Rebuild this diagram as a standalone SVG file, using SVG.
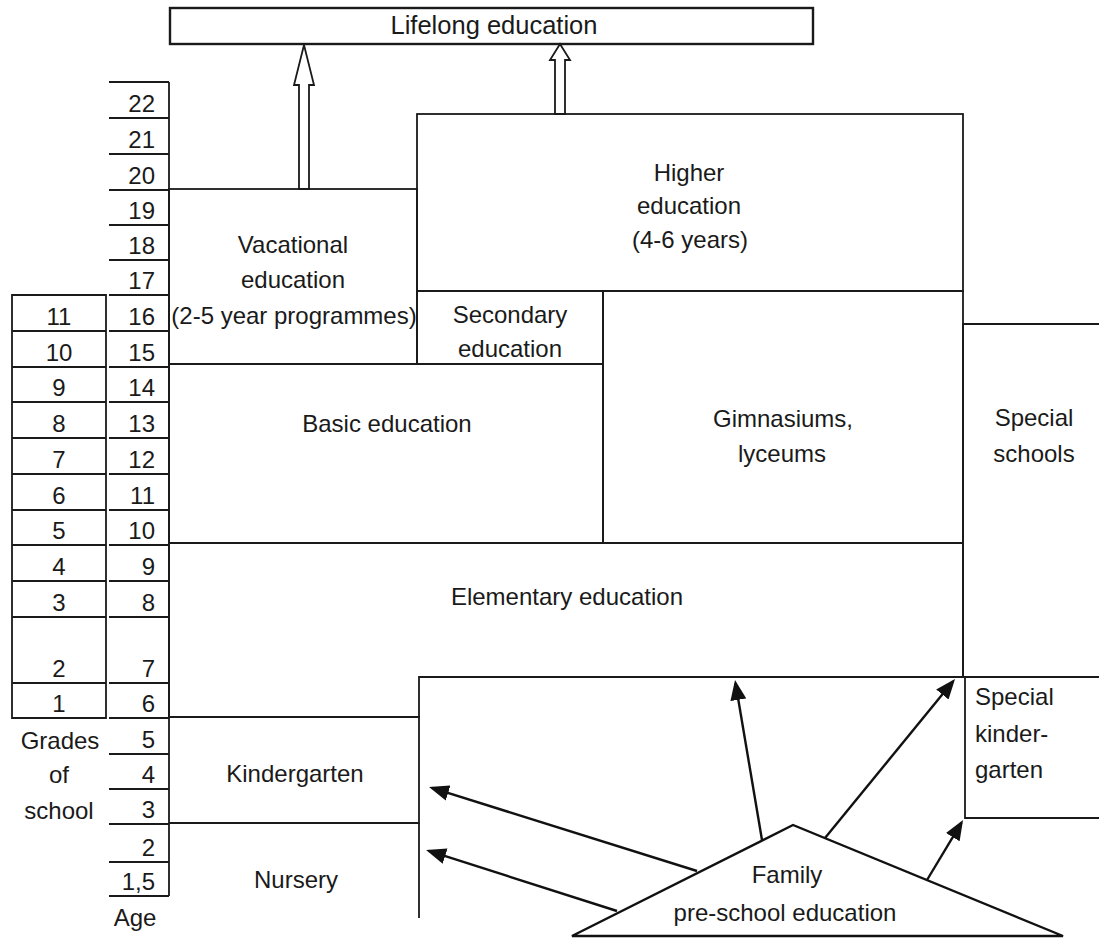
<svg xmlns="http://www.w3.org/2000/svg" width="1099" height="940" viewBox="0 0 1099 940">
<style>
  .ln{fill:none;stroke:#1a1a1a;stroke-width:1.8}
  .bx{fill:none;stroke:#1a1a1a;stroke-width:1.8}
  .t{font-family:"Liberation Sans",Arial,sans-serif;font-size:24px;fill:#1a1a1a}
  .c{text-anchor:middle}
  .r{text-anchor:end}
  .arr{fill:none;stroke:#111;stroke-width:2.4}
  .hollow{fill:#fff;stroke:#1a1a1a;stroke-width:1.8}
</style>
<defs>
  <marker id="ah" viewBox="0 0 20 16" refX="17" refY="8" markerWidth="20" markerHeight="16" markerUnits="userSpaceOnUse" orient="auto">
    <path d="M0,0 L20,8 L0,16 z" fill="#111"/>
  </marker>
</defs>
<rect width="1099" height="940" fill="#fff"/>

<g id="age-scale">
  <path class="ln" d="M169,82 V896 M109,82 H169 M109,118 H169 M109,154 H169 M109,190 H169 M109,225 H169 M109,260 H169 M109,295 H169 M109,331 H169 M109,367 H169 M109,402 H169 M109,438 H169 M109,474 H169 M109,510 H169 M109,545 H169 M109,581 H169 M109,617 H169 M109,683 H169 M109,718 H169 M109,754 H169 M109,789 H169 M109,824 H169 M109,862 H169 M109,896 H169"/>
  <g class="t r">
    <text x="155" y="112">22</text>
    <text x="155" y="148">21</text>
    <text x="155" y="184">20</text>
    <text x="155" y="219">19</text>
    <text x="155" y="254">18</text>
    <text x="155" y="289">17</text>
    <text x="155" y="325">16</text>
    <text x="155" y="361">15</text>
    <text x="155" y="396">14</text>
    <text x="155" y="432">13</text>
    <text x="155" y="468">12</text>
    <text x="155" y="504">11</text>
    <text x="155" y="539">10</text>
    <text x="155" y="575">9</text>
    <text x="155" y="611">8</text>
    <text x="155" y="677">7</text>
    <text x="155" y="712">6</text>
    <text x="155" y="748">5</text>
    <text x="155" y="783">4</text>
    <text x="155" y="818">3</text>
    <text x="155" y="856">2</text>
    <text x="155" y="890">1,5</text>
  </g>
  <text class="t c" x="135" y="926">Age</text>
</g>

<g id="grades-scale">
  <path class="ln" d="M12,295 H106 V718 H12 Z M12,331 H106 M12,367 H106 M12,402 H106 M12,438 H106 M12,474 H106 M12,510 H106 M12,545 H106 M12,581 H106 M12,617 H106 M12,683 H106"/>
  <g class="t c">
    <text x="59" y="325">11</text>
    <text x="59" y="361">10</text>
    <text x="59" y="396">9</text>
    <text x="59" y="432">8</text>
    <text x="59" y="468">7</text>
    <text x="59" y="504">6</text>
    <text x="59" y="539">5</text>
    <text x="59" y="575">4</text>
    <text x="59" y="611">3</text>
    <text x="59" y="677">2</text>
    <text x="59" y="712">1</text>
    <text x="60" y="749">Grades</text>
    <text x="59" y="783">of</text>
    <text x="59" y="819">school</text>
  </g>
</g>

<g id="lifelong">
  <rect x="170" y="8" width="643" height="36" fill="#fff" stroke="#1a1a1a" stroke-width="2.4"/>
  <text class="t c" x="494" y="34" style="font-size:25.5px">Lifelong education</text>
</g>

<g id="vocational">
  <rect class="bx" x="169" y="189" width="248" height="175"/>
  <text class="t c" x="293" y="253">Vacational</text>
  <text class="t c" x="293" y="288">education</text>
  <text class="t c" x="294" y="324">(2-5 year programmes)</text>
</g>

<g id="higher">
  <rect class="bx" x="417" y="114" width="546" height="177"/>
  <text class="t c" x="689" y="181">Higher</text>
  <text class="t c" x="689" y="214">education</text>
  <text class="t c" x="690" y="248">(4-6 years)</text>
</g>

<g id="secondary">
  <rect class="bx" x="417" y="291" width="186" height="73"/>
  <text class="t c" x="510" y="323">Secondary</text>
  <text class="t c" x="510" y="357">education</text>
</g>

<g id="gymnasiums">
  <rect class="bx" x="603" y="291" width="360" height="252"/>
  <text class="t c" x="783" y="427">Gimnasiums,</text>
  <text class="t c" x="782" y="462">lyceums</text>
</g>

<g id="basic">
  <rect class="bx" x="169" y="364" width="434" height="179"/>
  <text class="t c" x="387" y="432">Basic education</text>
</g>

<g id="elementary">
  <path class="bx" d="M169,543 H963 V677 H419 V717 H169 Z"/>
  <text class="t c" x="567" y="605">Elementary education</text>
</g>

<g id="special-schools">
  <path class="bx" d="M1099,324 H963 V677 H1099"/>
  <text class="t c" x="1034" y="426">Special</text>
  <text class="t c" x="1034" y="462">schools</text>
</g>

<g id="kindergarten">
  <path class="bx" d="M169,717 H419 V823 H169"/>
  <text class="t c" x="295" y="782">Kindergarten</text>
</g>

<g id="nursery">
  <path class="bx" d="M419,823 V918"/>
  <text class="t c" x="296" y="888">Nursery</text>
</g>

<g id="special-kindergarten">
  <path class="bx" d="M1099,677 H965 V818 H1099"/>
  <text class="t" x="975" y="705">Special</text>
  <text class="t" x="975" y="742">kinder-</text>
  <text class="t" x="975" y="778">garten</text>
</g>

<g id="connectors">
  <polygon class="hollow" points="299,189 299,85 294,85 304,45 314,85 309,85 309,189"/>
  <polygon class="hollow" points="555,114 555,60 550,60 560,44 570,60 565,60 565,114"/>
  <line class="arr" x1="697" y1="871" x2="431.9" y2="787.9" marker-end="url(#ah)"/>
  <line class="arr" x1="617" y1="911" x2="428.9" y2="850.9" marker-end="url(#ah)"/>
  <line class="arr" x1="762" y1="840" x2="735.5" y2="683" marker-end="url(#ah)"/>
  <line class="arr" x1="825" y1="838" x2="953.1" y2="681.3" marker-end="url(#ah)"/>
  <line class="arr" x1="927" y1="880" x2="961.5" y2="822.6" marker-end="url(#ah)"/>
</g>

<g id="family">
  <polygon points="572,936 793,825 1063,936" fill="#fff" stroke="#111" stroke-width="2.4" stroke-linejoin="miter"/>
  <text class="t c" x="787" y="883">Family</text>
  <text class="t c" x="785" y="921">pre-school education</text>
</g>
</svg>
